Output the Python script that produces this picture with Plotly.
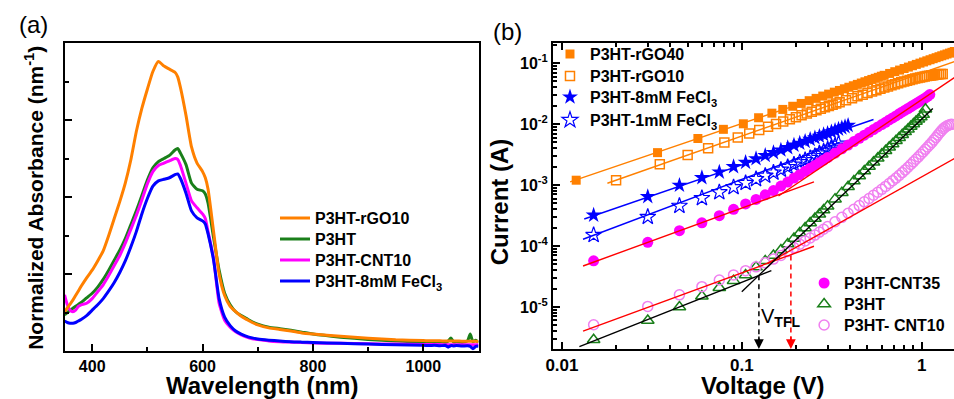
import math
import plotly.graph_objects as go

FONT = "Arial, Liberation Sans, sans-serif"

# ---------------- panel (a): absorbance ----------------
WL = [350, 355, 360, 365, 370, 375, 380, 390, 400, 410, 420, 430, 440, 450, 460, 470, 480, 490, 500,
      510, 520, 530, 540, 550, 555, 560, 570, 580, 590, 600, 605, 610, 620, 630, 640, 650, 660, 670,
      680, 690, 700, 720, 740, 760, 780, 800, 850, 900, 950, 1000, 1010, 1020, 1030, 1040, 1045, 1050,
      1055, 1060, 1070, 1080, 1085, 1090, 1095, 1100]
ABS_RGO10 = [0.51, 0.56, 0.61, 0.66, 0.72, 0.78, 0.84, 0.95, 1.05, 1.17, 1.30, 1.50, 1.72, 1.94, 2.18, 2.48,
             2.85, 3.15, 3.40, 3.63, 3.76, 3.70, 3.66, 3.62, 3.56, 3.42, 3.06, 2.65, 2.44, 2.33, 2.25, 2.10,
             1.55, 1.00, 0.72, 0.58, 0.51, 0.45, 0.41, 0.37, 0.34, 0.30, 0.28, 0.26, 0.235, 0.22, 0.19,
             0.165, 0.145, 0.135, 0.134, 0.133, 0.132, 0.131, 0.131, 0.13, 0.13, 0.129, 0.128, 0.127,
             0.127, 0.126, 0.126, 0.125]
ABS_P3HT = [0.47, 0.50, 0.53, 0.555, 0.58, 0.605, 0.63, 0.69, 0.75, 0.83, 0.93, 1.05, 1.18, 1.31, 1.46, 1.64,
            1.82, 2.02, 2.22, 2.38, 2.46, 2.50, 2.54, 2.61, 2.63, 2.57, 2.42, 2.18, 2.10, 2.08, 2.04, 1.92,
            1.47, 1.05, 0.75, 0.60, 0.51, 0.46, 0.42, 0.38, 0.35, 0.31, 0.29, 0.27, 0.245, 0.22, 0.18,
            0.15, 0.13, 0.115, 0.12, 0.11, 0.125, 0.11, 0.13, 0.17, 0.115, 0.12, 0.11, 0.13, 0.22, 0.12,
            0.14, 0.11]
ABS_CNT10 = [0.73, 0.60, 0.53, 0.51, 0.53, 0.58, 0.60, 0.62, 0.68, 0.77, 0.86, 0.98, 1.11, 1.24, 1.40, 1.58,
             1.76, 1.96, 2.17, 2.33, 2.41, 2.44, 2.47, 2.50, 2.49, 2.41, 2.18, 1.95, 1.86, 1.78, 1.72, 1.55,
             1.20, 0.62, 0.40, 0.31, 0.25, 0.21, 0.18, 0.16, 0.15, 0.13, 0.12, 0.115, 0.11, 0.105, 0.10,
             0.095, 0.09, 0.085, 0.085, 0.084, 0.083, 0.082, 0.082, 0.081, 0.081, 0.08, 0.08, 0.08, 0.08,
             0.08, 0.08, 0.08]
ABS_FECL3 = [0.39, 0.37, 0.36, 0.36, 0.37, 0.39, 0.41, 0.46, 0.53, 0.60, 0.68, 0.78, 0.89, 1.02, 1.17, 1.35,
             1.55, 1.78, 1.98, 2.14, 2.21, 2.23, 2.25, 2.29, 2.30, 2.24, 2.05, 1.82, 1.73, 1.69, 1.65, 1.52,
             1.18, 0.68, 0.44, 0.33, 0.26, 0.22, 0.19, 0.17, 0.155, 0.14, 0.13, 0.12, 0.115, 0.11, 0.10,
             0.09, 0.08, 0.075, 0.07, 0.074, 0.068, 0.072, 0.05, 0.07, 0.066, 0.07, 0.065, 0.068, 0.06,
             0.03, 0.06, 0.065]

# ---------------- panel (b): I-V ----------------
RGO40_V = [0.012, 0.034, 0.057, 0.079, 0.102, 0.124, 0.147, 0.169, 0.192, 0.214, 0.237, 0.259, 0.282, 0.304,
           0.327, 0.349, 0.372, 0.394, 0.417, 0.439, 0.462, 0.484, 0.507, 0.529, 0.552, 0.574, 0.597, 0.619,
           0.664, 0.709, 0.754, 0.799, 0.844, 0.889, 0.934, 0.979, 1.024, 1.069, 1.114, 1.159, 1.204, 1.249,
           1.294, 1.339, 1.384, 1.429, 1.474, 1.519]
RGO40_I = [1.2e-3, 3.4e-3, 5.8e-3, 8.2e-3, 1.01e-2, 1.27e-2, 1.51e-2, 1.74e-2, 1.96e-2, 2.18e-2, 2.42e-2,
           2.64e-2, 2.88e-2, 3.10e-2, 3.34e-2, 3.56e-2, 3.79e-2, 4.02e-2, 4.25e-2, 4.48e-2, 4.71e-2, 4.94e-2,
           5.17e-2, 5.40e-2, 5.63e-2, 5.85e-2, 6.09e-2, 6.31e-2, 6.77e-2, 7.23e-2, 7.69e-2, 8.15e-2, 8.61e-2,
           9.07e-2, 9.53e-2, 9.99e-2, 0.1044, 0.109, 0.1136, 0.1182, 0.1228, 0.1274, 0.132, 0.1366, 0.1412,
           0.1458, 0.1503, 0.155]
RGO10_V = [0.02, 0.035, 0.05, 0.065, 0.08, 0.095, 0.11, 0.125, 0.14, 0.155, 0.17, 0.185, 0.2, 0.215, 0.23,
           0.245, 0.26, 0.275, 0.29, 0.305, 0.32, 0.335, 0.35, 0.38, 0.41, 0.44, 0.47, 0.5, 0.53, 0.56, 0.59,
           0.62, 0.65, 0.68, 0.71, 0.74, 0.77, 0.8, 0.83, 0.86, 0.89, 0.92, 0.95, 0.98, 1.01, 1.04, 1.07, 1.1,
           1.13, 1.16, 1.19, 1.22, 1.25, 1.28, 1.31]
RGO10_I = [1.2e-3, 2.2e-3, 3.1e-3, 4.0e-3, 5.0e-3, 6.0e-3, 7.0e-3, 8.0e-3, 9.0e-3, 1.0e-2, 1.1e-2, 1.2e-2,
           1.3e-2, 1.39e-2, 1.49e-2, 1.59e-2, 1.69e-2, 1.78e-2, 1.88e-2, 1.98e-2, 2.08e-2, 2.17e-2, 2.27e-2,
           2.46e-2, 2.66e-2, 2.85e-2, 3.04e-2, 3.23e-2, 3.42e-2, 3.6e-2, 3.79e-2, 3.97e-2, 4.15e-2, 4.33e-2,
           4.5e-2, 4.67e-2, 4.84e-2, 5.0e-2, 5.15e-2, 5.3e-2, 5.44e-2, 5.57e-2, 5.7e-2, 5.82e-2, 5.93e-2,
           6.03e-2, 6.12e-2, 6.2e-2, 6.28e-2, 6.35e-2, 6.42e-2, 6.48e-2, 6.54e-2, 6.6e-2, 6.65e-2]
FE8_V = [0.015, 0.03, 0.045, 0.06, 0.075, 0.09, 0.105, 0.12, 0.135, 0.15, 0.165, 0.18, 0.195, 0.21, 0.225,
         0.24, 0.255, 0.27, 0.285, 0.3, 0.315, 0.33, 0.345, 0.36, 0.375, 0.39]
FE8_I = [3.2e-4, 6.45e-4, 9.9e-4, 1.32e-3, 1.63e-3, 2.0e-3, 2.35e-3, 2.7e-3, 3.05e-3, 3.4e-3, 3.75e-3, 4.1e-3,
         4.5e-3, 4.85e-3, 5.2e-3, 5.6e-3, 5.95e-3, 6.3e-3, 6.7e-3, 7.05e-3, 7.45e-3, 7.85e-3, 8.25e-3,
         8.65e-3, 9.05e-3, 9.5e-3]
FE1_V = [0.015, 0.03, 0.045, 0.06, 0.075, 0.09, 0.105, 0.12, 0.135, 0.15, 0.165, 0.18, 0.195, 0.21, 0.225,
         0.24, 0.255, 0.27, 0.285, 0.3, 0.315, 0.33, 0.345]
FE1_I = [1.51e-4, 3.0e-4, 4.55e-4, 6.1e-4, 7.6e-4, 9.2e-4, 1.08e-3, 1.25e-3, 1.42e-3, 1.6e-3, 1.78e-3,
         1.97e-3, 2.16e-3, 2.36e-3, 2.56e-3, 2.77e-3, 2.98e-3, 3.3e-3, 3.55e-3, 3.8e-3, 4.1e-3, 4.4e-3, 4.75e-3]
CNT35_V = [0.015, 0.03, 0.045, 0.06, 0.075, 0.09, 0.105, 0.12, 0.135, 0.15, 0.165, 0.18, 0.195, 0.21, 0.225,
           0.24, 0.255, 0.27, 0.285, 0.3, 0.33, 0.36, 0.39, 0.42, 0.45, 0.48, 0.51, 0.54, 0.57, 0.6, 0.63,
           0.66, 0.69, 0.72, 0.75, 0.78, 0.81, 0.84, 0.87, 0.9, 0.93, 0.96, 0.99, 1.02, 1.05, 1.08, 1.11]
CNT35_I = [5.7e-5, 1.15e-4, 1.78e-4, 2.4e-4, 3.14e-4, 4.0e-4, 4.9e-4, 5.8e-4, 6.9e-4, 8.1e-4, 9.6e-4, 1.12e-3,
           1.3e-3, 1.48e-3, 1.68e-3, 1.89e-3, 2.1e-3, 2.33e-3, 2.57e-3, 2.82e-3, 3.35e-3, 3.92e-3, 4.52e-3,
           5.17e-3, 5.85e-3, 6.57e-3, 7.33e-3, 8.13e-3, 8.96e-3, 9.82e-3, 1.07e-2, 1.17e-2, 1.26e-2, 1.36e-2,
           1.47e-2, 1.58e-2, 1.69e-2, 1.8e-2, 1.92e-2, 2.04e-2, 2.16e-2, 2.29e-2, 2.42e-2, 2.55e-2, 2.69e-2,
           2.85e-2, 3.05e-2]
P3HT_V = [0.015, 0.03, 0.045, 0.06, 0.075, 0.09, 0.105, 0.12, 0.135, 0.15, 0.165, 0.18, 0.195, 0.21, 0.225,
          0.24, 0.255, 0.27, 0.285, 0.3, 0.33, 0.36, 0.39, 0.42, 0.45, 0.48, 0.51, 0.54, 0.57, 0.6, 0.63, 0.66,
          0.69, 0.72, 0.75, 0.78, 0.81, 0.84, 0.87, 0.9, 0.93, 0.96, 0.99, 1.02, 1.05]
P3HT_I = [2.9e-6, 6.0e-6, 1.0e-5, 1.5e-5, 2.07e-5, 2.7e-5, 3.35e-5, 4.5e-5, 5.7e-5, 7.0e-5, 8.6e-5, 1.08e-4,
          1.33e-4, 1.63e-4, 1.98e-4, 2.38e-4, 2.83e-4, 3.32e-4, 3.88e-4, 4.48e-4, 5.87e-4, 7.5e-4, 9.4e-4,
          1.16e-3, 1.41e-3, 1.70e-3, 2.01e-3, 2.37e-3, 2.75e-3, 3.19e-3, 3.66e-3, 4.17e-3, 4.73e-3, 5.34e-3,
          5.99e-3, 6.7e-3, 7.45e-3, 8.26e-3, 9.1e-3, 1.0e-2, 1.1e-2, 1.2e-2, 1.31e-2, 1.43e-2, 1.75e-2]
CNT10_V = [0.015, 0.03, 0.045, 0.06, 0.075, 0.09, 0.105, 0.12, 0.135, 0.15, 0.165, 0.18, 0.195, 0.21, 0.225,
           0.24, 0.255, 0.27, 0.285, 0.3, 0.33, 0.36, 0.39, 0.42, 0.45, 0.48, 0.51, 0.54, 0.57, 0.6, 0.63,
           0.66, 0.69, 0.72, 0.75, 0.78, 0.81, 0.84, 0.87, 0.9, 0.93, 0.96, 0.99, 1.02, 1.05, 1.08, 1.11,
           1.14, 1.17, 1.2, 1.23, 1.26, 1.29, 1.32, 1.35, 1.38, 1.41, 1.44, 1.47]
CNT10_I = [5.1e-6, 1.02e-5, 1.58e-5, 2.15e-5, 2.77e-5, 3.35e-5, 3.94e-5, 4.55e-5, 5.3e-5, 6.1e-5, 7.0e-5,
           8.1e-5, 9.4e-5, 1.07e-4, 1.21e-4, 1.35e-4, 1.51e-4, 1.69e-4, 1.88e-4, 2.08e-4, 2.5e-4, 2.95e-4,
           3.45e-4, 4.0e-4, 4.6e-4, 5.3e-4, 6.0e-4, 6.8e-4, 7.6e-4, 8.5e-4, 9.5e-4, 1.06e-3, 1.18e-3, 1.3e-3,
           1.44e-3, 1.6e-3, 1.77e-3, 1.96e-3, 2.17e-3, 2.4e-3, 2.65e-3, 2.9e-3, 3.2e-3, 3.5e-3, 3.85e-3,
           4.2e-3, 4.6e-3, 5.0e-3, 5.5e-3, 6.0e-3, 6.6e-3, 7.2e-3, 7.8e-3, 8.4e-3, 8.9e-3, 9.3e-3, 9.6e-3,
           9.8e-3, 9.9e-3]

# fit lines (end points)
FIT_RGO40_V, FIT_RGO40_I = [0.0111, 1.55], [1.13e-3, 0.158]
FIT_RGO10_V, FIT_RGO10_I = [0.0179, 1.55], [1.07e-3, 0.108]
FIT_FE8_V, FIT_FE8_I = [0.0133, 0.54], [2.77e-4, 1.19e-2]
FIT_FE1_V, FIT_FE1_I = [0.0131, 0.35], [1.29e-4, 5.0e-3]
FIT_CNT35_LO_V, FIT_CNT35_LO_I = [0.0131, 0.252], [4.7e-5, 1.13e-3]
FIT_CNT35_HI_V, FIT_CNT35_HI_I = [0.16, 1.55], [6.6e-4, 6.0e-2]
FIT_CNT10_LO_V, FIT_CNT10_LO_I = [0.0131, 0.252], [4.0e-6, 9.9e-5]
FIT_CNT10_HI_V, FIT_CNT10_HI_I = [0.139, 1.55], [5.2e-5, 2.8e-3]
FIT_P3HT_LO_V, FIT_P3HT_LO_I = [0.0125, 0.146], [2.24e-6, 3.94e-5]
FIT_P3HT_HI_V, FIT_P3HT_HI_I = [0.1, 1.154], [1.78e-5, 1.8e-2]

VTFL_BLACK_V, VTFL_BLACK_I = [0.1245, 0.1245], [3.3e-5, 2.4e-6]
VTFL_RED_V, VTFL_RED_I = [0.1875, 0.1875], [7.0e-5, 2.4e-6]

ORANGE = "#FF8000"
GREEN = "#1A7F1A"
MAGENTA = "#FF00FF"
BLUE = "#0000FF"
VIOLET = "#F080F0"
RED = "#FF0000"

W, H = 954, 399

fig = go.Figure()
legend_defs = {}  # legend id -> (text-left px, row-centre px)


def new_legend(text_left, row_center):
    name = "legend" if not legend_defs else "legend%d" % (len(legend_defs) + 1)
    legend_defs[name] = (text_left, row_center)
    return name


# ---- panel (a) traces (draw order green, magenta, blue, orange)
A_ROWS = {"P3HT-rGO10": 218, "P3HT": 239, "P3HT-CNT10": 260, "P3HT-8mM FeCl<sub>3</sub>": 281}
for name, ys, col in [("P3HT", ABS_P3HT, GREEN),
                      ("P3HT-CNT10", ABS_CNT10, MAGENTA),
                      ("P3HT-8mM FeCl<sub>3</sub>", ABS_FECL3, BLUE),
                      ("P3HT-rGO10", ABS_RGO10, ORANGE)]:
    fig.add_trace(go.Scatter(x=WL, y=ys, mode="lines", name=name,
                             line=dict(color=col, width=3, shape="spline", smoothing=0.5),
                             xaxis="x", yaxis="y", legend=new_legend(310, A_ROWS[name])))

# ---- panel (b) marker traces
mk = [
    ("P3HT-rGO40", RGO40_V, RGO40_I, dict(symbol="square", size=9, color=ORANGE), 587, 54),
    ("P3HT-rGO10", RGO10_V, RGO10_I, dict(symbol="square-open", size=9, color=ORANGE, line=dict(width=1.5)), 587, 76),
    ("P3HT-8mM FeCl<sub>3</sub>", FE8_V, FE8_I, dict(symbol="star", size=12, color=BLUE), 587, 97),
    ("P3HT-1mM FeCl<sub>3</sub>", FE1_V, FE1_I, dict(symbol="star-open", size=12, color=BLUE, line=dict(width=1.2)), 587, 120),
    ("P3HT-CNT35", CNT35_V, CNT35_I, dict(symbol="circle", size=11, color=MAGENTA), 843, 283),
    ("P3HT", P3HT_V, P3HT_I, dict(symbol="triangle-up-open", size=11, color=GREEN, line=dict(width=1.5)), 843, 304),
    ("P3HT- CNT10", CNT10_V, CNT10_I, dict(symbol="circle-open", size=10, color=VIOLET, line=dict(width=1.5)), 843, 325),
]
for name, xs, ys, marker, tl, rc in mk:
    fig.add_trace(go.Scatter(x=xs, y=ys, mode="markers", name=name, marker=marker,
                             xaxis="x2", yaxis="y2", legend=new_legend(tl, rc)))

fits = [
    (FIT_RGO40_V, FIT_RGO40_I, ORANGE), (FIT_RGO10_V, FIT_RGO10_I, ORANGE),
    (FIT_FE8_V, FIT_FE8_I, BLUE), (FIT_FE1_V, FIT_FE1_I, BLUE),
    (FIT_CNT35_LO_V, FIT_CNT35_LO_I, RED), (FIT_CNT35_HI_V, FIT_CNT35_HI_I, RED),
    (FIT_CNT10_LO_V, FIT_CNT10_LO_I, RED), (FIT_CNT10_HI_V, FIT_CNT10_HI_I, RED),
    (FIT_P3HT_LO_V, FIT_P3HT_LO_I, "black"), (FIT_P3HT_HI_V, FIT_P3HT_HI_I, "black"),
]
for xs, ys, col in fits:
    fig.add_trace(go.Scatter(x=xs, y=ys, mode="lines", line=dict(color=col, width=1.4),
                             showlegend=False, xaxis="x2", yaxis="y2", hoverinfo="skip"))

for xs, ys, col in [(VTFL_BLACK_V, VTFL_BLACK_I, "black"), (VTFL_RED_V, VTFL_RED_I, RED)]:
    fig.add_trace(go.Scatter(x=xs, y=ys, mode="lines", line=dict(color=col, width=1.5, dash="5px,4px"),
                             showlegend=False, xaxis="x2", yaxis="y2", hoverinfo="skip"))

# ---- axes
ax_common = dict(showline=True, linecolor="black", linewidth=2, ticks="inside", tickcolor="black",
                 tickwidth=1.5, showgrid=False, zeroline=False)
tickfont = dict(family=FONT, size=16, color="black", weight="bold")

YMIN_B, YMAX_B = -5.69, -0.67
XMIN_B, XMAX_B = -2.05, 0.18

LEG_FONT = 16
item_h = LEG_FONT * 1.3 + 3
legends = {}
for name, (tl, rc) in legend_defs.items():
    legends[name] = dict(x=(tl - 40) / W, y=1 - (rc - 5 - item_h / 2) / H, xanchor="left", yanchor="top",
                         bgcolor="rgba(0,0,0,0)",
                         font=dict(family=FONT, size=LEG_FONT, color="black", weight="bold"))

fig.update_layout(
    width=W, height=H, margin=dict(l=0, r=0, t=0, b=0),
    paper_bgcolor="white", plot_bgcolor="white",
    font=dict(family=FONT, color="black"),
    xaxis=dict(domain=[58 / W, 475 / W], range=[350, 1100], tick0=400, dtick=200, ticklen=7,
               minor=dict(ticks="inside", ticklen=4, dtick=100, tickwidth=1.5, tickcolor="black"),
               mirror=True, tickfont=tickfont, anchor="y", **ax_common),
    yaxis=dict(domain=[1 - 351 / H, 1 - 43 / H], range=[0, 4], tick0=0, dtick=1, ticklen=7,
               showticklabels=False,
               minor=dict(ticks="inside", ticklen=4, dtick=0.5, tickwidth=1.5, tickcolor="black"),
               mirror=True, anchor="x", **ax_common),
    xaxis2=dict(domain=[550 / W, 1.0], type="log", range=[XMIN_B, XMAX_B],
                tickmode="array", tickvals=[0.01, 0.1, 1], ticktext=["0.01", "0.1", "1"], ticklen=7,
                minor=dict(ticks="inside", ticklen=4, dtick="D1", tickwidth=1.5, tickcolor="black"),
                mirror="allticks", tickfont=dict(family=FONT, size=17, color="black", weight="bold"),
                anchor="y2", **ax_common),
    yaxis2=dict(domain=[1 - 349 / H, 1 - 43 / H], type="log", range=[YMIN_B, YMAX_B],
                tickmode="array", tickvals=[1e-5, 1e-4, 1e-3, 1e-2, 1e-1],
                ticktext=["10<sup>-5</sup>", "10<sup>-4</sup>", "10<sup>-3</sup>", "10<sup>-2</sup>",
                          "10<sup>-1</sup>"], ticklen=7,
                minor=dict(ticks="inside", ticklen=4, dtick="D1", tickwidth=1.5, tickcolor="black"),
                mirror=False, tickfont=dict(family=FONT, size=16, color="black", weight="bold"),
                anchor="x2", **ax_common),
    **legends,
)

ann = []
# panel labels
ann.append(dict(text="(a)", x=27 / W, y=1 - 24 / H, xref="paper", yref="paper", showarrow=False,
                font=dict(family=FONT, size=24), xanchor="center", yanchor="middle"))
ann.append(dict(text="(b)", x=504 / W, y=1 - 31 / H, xref="paper", yref="paper", showarrow=False,
                font=dict(family=FONT, size=24), xanchor="center", yanchor="middle"))
# axis titles
ann.append(dict(text="<b>Wavelength (nm)</b>", x=257 / W, y=1 - 385 / H, xref="paper", yref="paper",
                showarrow=False, font=dict(family=FONT, size=24), xanchor="center", yanchor="middle"))
ann.append(dict(text="<b>Normalized Absorbance (nm<sup>-1</sup>)</b>", x=27 / W, y=1 - 198 / H,
                xref="paper", yref="paper", showarrow=False, textangle=-90,
                font=dict(family=FONT, size=21), xanchor="center", yanchor="middle"))
ann.append(dict(text="<b>Current (A)</b>", x=496 / W, y=1 - 202 / H, xref="paper", yref="paper",
                showarrow=False, textangle=-90, font=dict(family=FONT, size=24),
                xanchor="center", yanchor="middle"))
ann.append(dict(text="<b>Voltage (V)</b>", x=762 / W, y=1 - 385 / H, xref="paper", yref="paper",
                showarrow=False, font=dict(family=FONT, size=24), xanchor="center", yanchor="middle"))
# V_TFL label and arrows
ann.append(dict(text="V<sub><b>TFL</b></sub>", x=math.log10(VTFL_BLACK_V[0]), y=-5.18, xref="x2", yref="y2",
                showarrow=False, font=dict(family=FONT, size=20), xanchor="left", yanchor="middle"))
for xv, col in [(VTFL_BLACK_V[0], "black"), (VTFL_RED_V[0], RED)]:
    ann.append(dict(text="", x=math.log10(xv), y=YMIN_B, xref="x2", yref="y2", showarrow=True,
                    ax=0, ay=-14, arrowhead=2, arrowsize=1.3, arrowwidth=1.5, arrowcolor=col, standoff=0))
fig.update_layout(annotations=ann)

fig.write_html("out.html")
